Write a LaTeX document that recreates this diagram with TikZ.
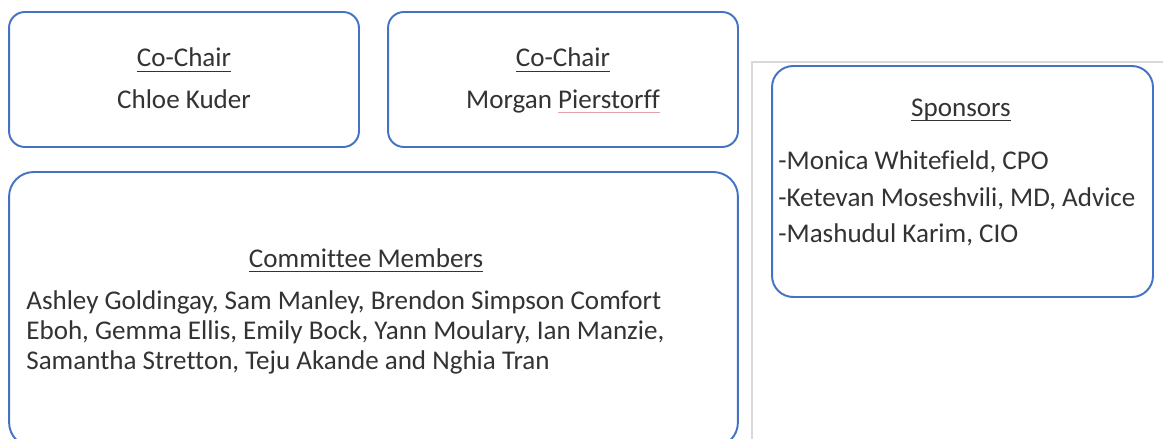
\documentclass[tikz,border=0pt]{standalone}
\usepackage{fontspec}
\setmainfont{Carlito}[Ligatures=CommonOff]
\usepackage{tikz}
\usetikzlibrary{positioning}
\usepackage{xcolor}
\definecolor{cmblue}{HTML}{4472C4}
\definecolor{cmink}{HTML}{333333}
\definecolor{cmpanel}{HTML}{D9D9D9}
\definecolor{cmspell}{HTML}{E3A3AC}
\newsavebox{\cmlinebox}
\newcommand{\spellmark}[1]{\sbox{\cmlinebox}{#1}\rlap{\color{cmspell}\rule[-2.2pt]{\wd\cmlinebox}{0.5pt}}\usebox{\cmlinebox}}
\newcommand{\cmul}[1]{\sbox{\cmlinebox}{#1}\rlap{\rule[-3pt]{\wd\cmlinebox}{0.75pt}}\usebox{\cmlinebox}}
\tikzset{
  cmbox/.style={draw=cmblue, line width=1.1pt, fill=white, inner sep=0pt},
  cmtext/.style={text=cmink, font=\fontsize{15.4}{18}\selectfont, inner sep=0pt},
  cmhead/.style={cmtext, anchor=base},
  cmline/.style={cmtext, anchor=base west},
}

\begin{document}
\begin{tikzpicture}[x=0.02cm,y=-0.02cm]
  \useasboundingbox (0,0) rectangle (1163,439);
  \clip (0,0) rectangle (1163,439);
  \draw[cmpanel, line width=0.6pt] (752,439) -- (752,62) -- (1163,62);

  \node[cmbox, rounded corners=9pt, minimum width=7cm, minimum height=2.7cm] (chairone) at (184,79.5) {};
  \node[cmbox, rounded corners=9pt, minimum width=7cm, minimum height=2.7cm] (chairtwo) at (563,79.5) {};
  \node[cmbox, rounded corners=14pt, minimum width=14.58cm, minimum height=5.5cm] (members) at (373.5,309.5) {};
  \node[cmbox, rounded corners=12pt, minimum width=7.62cm, minimum height=4.62cm] (sponsors) at (962.5,181.5) {};

  \node[cmhead] (chaironehead) at (184,67) {\cmul{Co-Chair}};
  \node[cmhead] (chaironename) at (184,109) {Chloe Kuder};
  \node[cmhead] (chairtwohead) at (563,67) {\cmul{Co-Chair}};
  \node[cmhead] (chairtwoname) at (563,109) {Morgan \spellmark{Pierstorff}};

  \node[cmhead] (membershead) at (366,267) {\cmul{Committee Members}};
  \node[cmline] (membersa) at (26,309) {Ashley Goldingay, Sam Manley, Brendon Simpson Comfort};
  \node[cmline] (membersb) at (26,339) {Eboh, Gemma Ellis, Emily Bock, Yann Moulary, Ian Manzie,};
  \node[cmline] (membersc) at (26,369) {Samantha Stretton, Teju Akande and Nghia Tran};

  \node[cmhead] (sponsorshead) at (961,116) {\cmul{Sponsors}};
  \node[cmline] (sponsora) at (778,170) {-Monica Whitefield, CPO};
  \node[cmline] (sponsorb) at (778,206) {-Ketevan Moseshvili, MD, Advice};
  \node[cmline] (sponsorc) at (778,242) {-Mashudul Karim, CIO};
\end{tikzpicture}
\end{document}
